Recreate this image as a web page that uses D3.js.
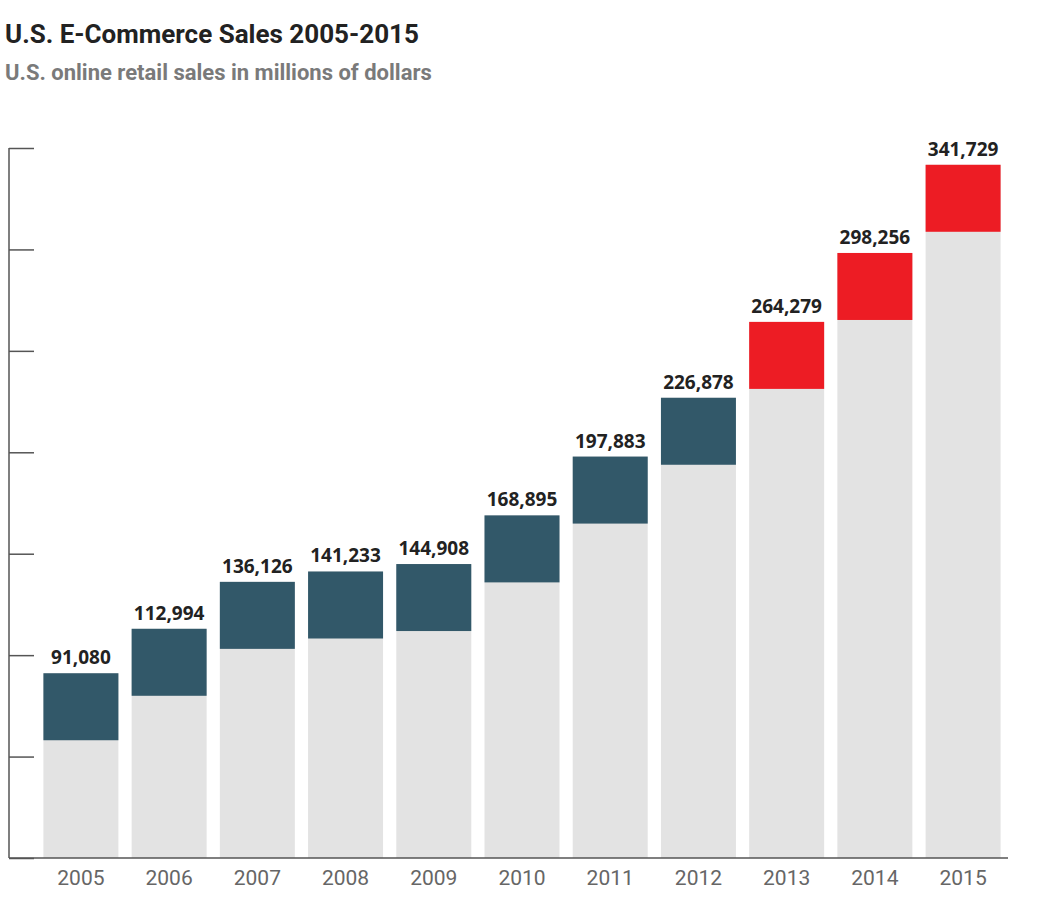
<!doctype html>
<html>
<head>
<meta charset="UTF-8">
<script src="https://d3js.org/d3.v7.min.js"></script>
<style>
  body { margin: 0; background: #fff; }
  .title { font-family: "Liberation Sans Narrow", "Roboto", sans-serif; font-weight: bold; }
</style>
</head>
<body>
<svg id="chart" width="1038" height="904"></svg>
<script>
// data
const years = ["2005","2006","2007","2008","2009","2010","2011","2012","2013","2014","2015"];
const sales = [91080, 112994, 136126, 141233, 144908, 168895, 197883, 226878, 264279, 298256, 341729];
const highlighted = ["2013","2014","2015"];
const yTicks = [0, 50000, 100000, 150000, 200000, 250000, 300000, 350000];

const svg = d3.select("#chart");
const baseY = 858, topY = 148;

const x = d3.scaleBand().domain(years).range([39, 1005]).paddingInner(0.15).paddingOuter(0.05);
const y = d3.scaleLinear().domain([0, 350000]).range([baseY, topY]);
const capH = 67;

svg.append("text").attr("class", "title").attr("x", 5).attr("y", 43)
  .attr("font-size", 26).attr("fill", "#222").text("U.S. E-Commerce Sales 2005-2015");
svg.append("text").attr("class", "title").attr("x", 5).attr("y", 80)
  .attr("font-size", 22).attr("fill", "#7a7a7a").text("U.S. online retail sales in millions of dollars");

const rows = years.map((yr, i) => ({ year: yr, value: sales[i] }));

const g = svg.append("g");
g.selectAll("rect.base").data(rows).enter().append("rect")
  .attr("x", d => x(d.year)).attr("width", x.bandwidth())
  .attr("y", d => y(d.value)).attr("height", d => baseY - y(d.value))
  .attr("fill", "#e3e3e3");
g.selectAll("rect.cap").data(rows).enter().append("rect")
  .attr("x", d => x(d.year)).attr("width", x.bandwidth())
  .attr("y", d => y(d.value)).attr("height", capH)
  .attr("fill", d => highlighted.includes(d.year) ? "#ed1c24" : "#325869");
g.selectAll("text.val").data(rows).enter().append("text")
  .attr("x", d => x(d.year) + x.bandwidth() / 2).attr("y", d => y(d.value) - 9)
  .attr("text-anchor", "middle").attr("font-family", "Open Sans, sans-serif")
  .attr("font-weight", "bold").attr("font-size", 19).attr("fill", "#222")
  .text(d => d3.format(",")(d.value));

// y axis
const axis = d3.axisRight(y).tickValues(yTicks).tickSize(25).tickFormat("");
const ag = svg.append("g").attr("transform", "translate(9,0)").call(axis);
ag.selectAll("line, path").attr("stroke", "#555").attr("stroke-width", 1.5);
ag.select(".domain").attr("d", `M0,${topY}V${baseY}`);

// baseline
svg.append("line").attr("x1", 9).attr("x2", 1008).attr("y1", baseY).attr("y2", baseY)
  .attr("stroke", "#555").attr("stroke-width", 1.5);

// x labels
const xa = svg.append("g").attr("transform", `translate(0,${baseY})`)
  .call(d3.axisBottom(x).tickSize(0).tickPadding(12));
xa.select(".domain").remove();
xa.selectAll("text").attr("font-family", "Liberation Sans Narrow, Roboto, sans-serif")
  .attr("font-size", 21).attr("fill", "#666");
</script>
</body>
</html>
